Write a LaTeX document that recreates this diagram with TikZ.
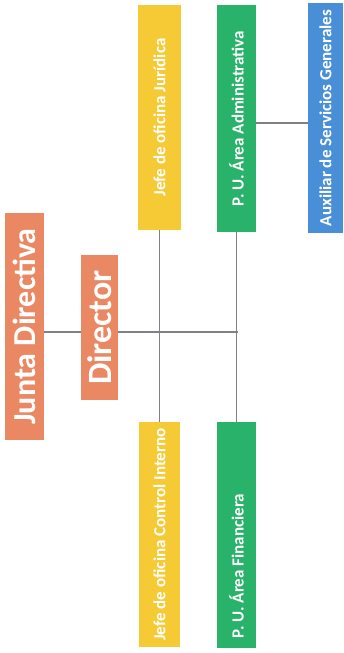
\documentclass[tikz,border=0pt]{standalone}
\usepackage{fontspec}
\setmainfont{Carlito}
\usepackage{graphicx}
\definecolor{cOrange}{RGB}{233,136,98}
\definecolor{cYellow}{RGB}{245,202,52}
\definecolor{cGreen}{RGB}{40,178,106}
\definecolor{cBlue}{RGB}{72,143,216}
\definecolor{cLine}{RGB}{128,128,134}
\begin{document}
\begin{tikzpicture}[x=1pt,y=-1pt,
  box/.style={draw=none,inner sep=0pt,text=white,font=\bfseries},
  big/.style={box,fill=cOrange},
  conn/.style={draw=cLine,line width=1.3pt}]
\fill[white] (0,0) rectangle (344,653);
\useasboundingbox (0,0) rectangle (344,653);
\node[big,minimum width=39pt,minimum height=227pt] (jd) at (24.5,326.5)
  {\rotatebox{90}{\fontsize{32}{35}\selectfont Junta Directiva}};
\node[big,minimum width=37pt,minimum height=145pt] (dir) at (99.5,327.5)
  {\rotatebox{90}{\fontsize{34}{37}\selectfont Director}};
\node[box,fill=cYellow,minimum width=43pt,minimum height=225pt] (jur) at (159.5,117.5)
  {\rotatebox{90}{\fontsize{17}{20}\selectfont Jefe de oficina Jurídica}};
\node[box,fill=cGreen,minimum width=39pt,minimum height=227pt] (adm) at (236.5,118.5)
  {\rotatebox{90}{\fontsize{17}{20}\selectfont P. U. Área Administrativa}};
\node[box,fill=cBlue,minimum width=35pt,minimum height=230pt] (aux) at (325.5,118)
  {\rotatebox{90}{\fontsize{17}{20}\selectfont Auxiliar de Servicios Generales}};
\node[box,fill=cYellow,minimum width=41pt,minimum height=225pt] (ci) at (159.5,534.5)
  {\rotatebox{90}{\fontsize{17}{20}\selectfont Jefe de oficina Control Interno}};
\node[box,fill=cGreen,minimum width=39pt,minimum height=226pt] (fin) at (236.5,535)
  {\rotatebox{90}{\makebox[206pt][l]{\fontsize{17}{20}\selectfont P. U. Área Financiera}}};
\coordinate (hub) at (238,332);
\coordinate (auxrow) at (0,123);
\draw[conn] (jd.east |- hub) -- (dir.west |- hub);
\draw[conn] (dir.east |- hub) -- (hub);
\draw[conn] (jur.south) -- (ci.north);
\draw[conn] (adm.south) -- (fin.north);
\draw[conn] (adm.east |- auxrow) -- (aux.west |- auxrow);
\end{tikzpicture}
\end{document}
